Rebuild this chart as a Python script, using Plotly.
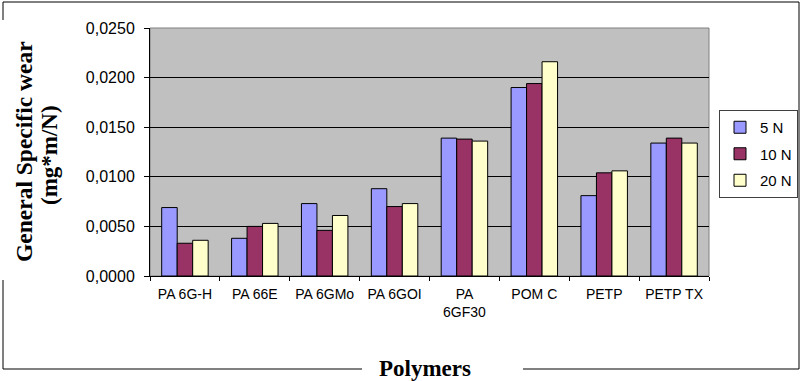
import plotly.graph_objects as go

categories = ["PA 6G-H", "PA 66E", "PA 6GMo", "PA 6GOI", "PA<br>6GF30", "POM C", "PETP", "PETP TX"]
series_names = ["5 N", "10 N", "20 N"]
wear_5N = [0.0069, 0.0038, 0.0073, 0.0088, 0.0139, 0.0190, 0.0081, 0.0134]
wear_10N = [0.0033, 0.0050, 0.0046, 0.0070, 0.0138, 0.0194, 0.0104, 0.0139]
wear_20N = [0.0036, 0.0053, 0.0061, 0.0073, 0.0136, 0.0216, 0.0106, 0.0134]
y_ticks = [0.0, 0.005, 0.010, 0.015, 0.020, 0.025]
y_tick_labels = ["0,0000", "0,0050", "0,0100", "0,0150", "0,0200", "0,0250"]
colors = ["#9999FF", "#993366", "#FFFFCC"]

W, H = 801, 381
px = lambda x: x / W
py = lambda y: 1 - y / H

fig = go.Figure()
for i, (name, vals) in enumerate(zip(series_names, [wear_5N, wear_10N, wear_20N])):
    fig.add_trace(go.Bar(
        x=categories, y=vals, name=name, legendgroup=name,
        marker=dict(color=colors[i], line=dict(color="black", width=1)),
    ))

shapes = []
shapes.append(dict(type="rect", xref="paper", yref="paper",
                   x0=px(150), x1=px(709), y0=py(276), y1=py(28),
                   line=dict(color="#808080", width=1), layer="below"))
seg = [((3, 2), (799, 2)), ((799, 2), (799, 369)), ((523, 369), (799, 369)),
       ((3, 369), (362, 369)), ((3, 280), (3, 369)), ((3, 2), (3, 20))]
for (a, b) in seg:
    shapes.append(dict(type="line", xref="paper", yref="paper",
                       x0=px(a[0]), y0=py(a[1]), x1=px(b[0]), y1=py(b[1]),
                       line=dict(color="black", width=1)))

annotations = [
    dict(text="<b>General Specific wear</b>", xref="paper", yref="paper",
         x=px(24), y=py(152), textangle=-90, showarrow=False,
         font=dict(family="Liberation Serif", size=23.5, color="black"),
         xanchor="center", yanchor="middle"),
    dict(text="<b>(mg*m/N)</b>", xref="paper", yref="paper",
         x=px(49), y=py(155), textangle=-90, showarrow=False,
         font=dict(family="Liberation Serif", size=23, color="black"),
         xanchor="center", yanchor="middle"),
    dict(text="<b>Polymers</b>", xref="paper", yref="paper",
         x=px(425), y=py(368), showarrow=False,
         font=dict(family="Liberation Serif", size=23, color="black"),
         xanchor="center", yanchor="middle"),
]

fig.update_layout(
    width=W, height=H,
    margin=dict(l=0, r=0, t=0, b=0, autoexpand=False),
    paper_bgcolor="white", plot_bgcolor="#C0C0C0",
    barmode="group", bargap=0.335, bargroupgap=0,
    font=dict(family="Liberation Sans, Arial", size=13, color="black"),
    showlegend=True,
    legend=dict(x=px(719), y=py(110), xanchor="left", yanchor="top",
                bgcolor="white", bordercolor="#404040", borderwidth=1,
                font=dict(family="Liberation Sans, Arial", size=15, color="black"),
                tracegroupgap=4, traceorder="grouped", itemwidth=30),
    xaxis=dict(domain=[px(150), px(709)], showline=True, linecolor="black", linewidth=1,
               ticks="outside", tickson="boundaries", ticklen=4, tickcolor="black",
               showgrid=False, tickfont=dict(size=14), tickangle=0, ticklabelstandoff=5),
    yaxis=dict(domain=[py(276), py(28)], range=[0, 0.025], tickvals=y_ticks,
               ticktext=y_tick_labels, showline=True, linecolor="black", linewidth=1,
               ticks="outside", ticklen=5, tickcolor="black",
               showgrid=True, gridcolor="black", gridwidth=1, zeroline=False,
               tickfont=dict(size=16), ticklabelstandoff=6),
    shapes=shapes, annotations=annotations,
)

fig.write_html("out.html", config={"displayModeBar": False},
               post_script="document.body.style.margin='0px';document.body.style.overflow='hidden';")
